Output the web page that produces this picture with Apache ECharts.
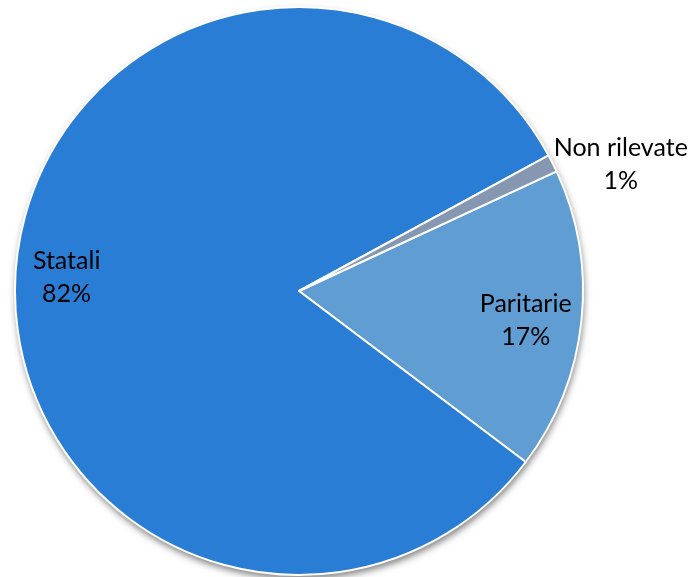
<!DOCTYPE html>
<html>
<head>
<meta charset="utf-8">
<script src="https://cdn.jsdelivr.net/npm/echarts@6/dist/echarts.min.js"></script>
<style>html,body{margin:0;padding:0;background:#fff}#c{width:692px;height:577px}</style>
</head>
<body>
<div id="c"></div>
<script>
const categories = ['Paritarie', 'Statali', 'Non rilevate'];
const values = [17.2, 81.8, 1.0];
const colors = ['#5f9dd2', '#2a7dd5', '#8597b1'];

const CX = 299, CY = 291, R = 284, START = 24.9;
const labelRadius = [228, 233, 349];
const labelNudge = [[0, 5], [0, 4], [10, 30]];
const total = values.reduce((a, b) => a + b, 0);

function midAngle(i) {
  let acc = 0;
  for (let k = 0; k < i; k++) acc += values[k];
  const a0 = START - acc / total * 360;
  const a1 = a0 - values[i] / total * 360;
  return (a0 + a1) / 2 * Math.PI / 180;
}

const chart = echarts.init(document.getElementById('c'));
chart.setOption({
  animation: false,
  series: [
    {
      type: 'pie', silent: true, z: 1,
      center: [CX, CY], radius: R,
      label: { show: false }, labelLine: { show: false },
      data: [{ value: 1, itemStyle: { color: '#ffffff', shadowBlur: 7, shadowOffsetY: 4, shadowOffsetX: 1, shadowColor: 'rgba(0,0,0,0.5)' } }]
    },
    {
      type: 'pie', z: 2,
      center: [CX, CY], radius: R,
      startAngle: START, clockwise: true,
      percentPrecision: 0,
      itemStyle: { borderColor: '#ffffff', borderWidth: 2 },
      label: {
        show: true, position: 'inside',
        formatter: '{b}\n{d}%',
        color: '#000', fontFamily: 'Lato, "Open Sans", sans-serif', fontSize: 25,
        lineHeight: 33, align: 'center'
      },
      labelLine: { show: false },
      labelLayout: function (p) {
        const i = p.dataIndex;
        const a = midAngle(i);
        return {
          x: CX + labelRadius[i] * Math.cos(a) + labelNudge[i][0],
          y: CY - labelRadius[i] * Math.sin(a) + labelNudge[i][1],
          align: 'center', verticalAlign: 'middle'
        };
      },
      data: categories.map((c, i) => ({ name: c, value: values[i], itemStyle: { color: colors[i] } }))
    }
  ]
});
</script>
</body>
</html>
